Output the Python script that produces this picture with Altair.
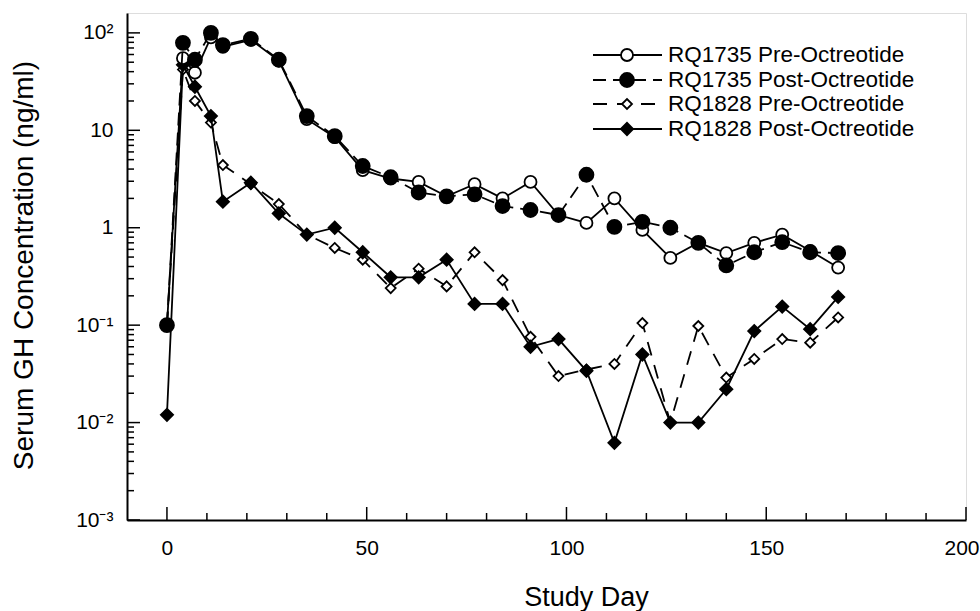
import altair as alt
import pandas as pd

# ---------------- data ----------------
DAYS = [0, 4, 7, 11, 14, 21, 28, 35, 42, 49, 56, 63, 70, 77, 84, 91, 98,
        105, 112, 119, 126, 133, 140, 147, 154, 161, 168]

RQ1735_PRE = [0.1, 55, 39, 90, 72, 85, 52, 13, 8.5, 3.9, 3.2, 2.95, 2.1, 2.8,
              2.0, 2.95, 1.35, 1.12, 2.0, 0.95, 0.49, 0.70, 0.55, 0.70, 0.85,
              0.58, 0.39]
RQ1735_POST = [0.1, 79, 53, 100, 75, 87, 53, 14, 8.7, 4.3, 3.3, 2.3, 2.1, 2.2,
               1.67, 1.52, 1.35, 3.5, 1.02, 1.15, 1.0, 0.70, 0.41, 0.56, 0.71,
               0.56, 0.55]
RQ1828_PRE = [0.1, 42, 20, 12, 4.4, 2.8, 1.75, 0.85, 0.62, 0.47, 0.24, 0.38,
              0.25, 0.56, 0.29, 0.076, 0.03, 0.035, 0.04, 0.105, 0.01, 0.098,
              0.029, 0.045, 0.072, 0.066, 0.12]
RQ1828_POST = [0.012, 47, 28, 14, 1.85, 2.9, 1.4, 0.85, 1.0, 0.56, 0.31, 0.31,
               0.47, 0.165, 0.165, 0.06, 0.072, 0.034, 0.0062, 0.05, 0.01, 0.01,
               0.022, 0.087, 0.155, 0.091, 0.195]

SERIES = ["RQ1735 Pre-Octreotide", "RQ1735 Post-Octreotide",
          "RQ1828 Pre-Octreotide", "RQ1828 Post-Octreotide"]
VALUES = [RQ1735_PRE, RQ1735_POST, RQ1828_PRE, RQ1828_POST]

X_MAJOR = [0, 50, 100, 150, 200]
X_MINOR = [10, 20, 30, 40, 60, 70, 80, 90, 110, 120, 130, 140, 160, 170, 180, 190]
Y_MAJOR = [0.001, 0.01, 0.1, 1, 10, 100]
Y_MINOR = [m * d for d in [0.001, 0.01, 0.1, 1, 10] for m in range(2, 10)]

# ---------------- styles ----------------
FONT = "Liberation Sans"
W, H = 839, 507
STYLE = {
    "RQ1735 Pre-Octreotide": dict(dash=None, shape="circle", fill="white", size=144),
    "RQ1735 Post-Octreotide": dict(dash=[13, 7], shape="circle", fill="black", size=196),
    "RQ1828 Pre-Octreotide": dict(dash=[14, 10], shape="diamond", fill="white", size=100),
    "RQ1828 Post-Octreotide": dict(dash=None, shape="diamond", fill="black", size=150),
}
DRAW_ORDER = ["RQ1828 Pre-Octreotide", "RQ1828 Post-Octreotide",
              "RQ1735 Pre-Octreotide", "RQ1735 Post-Octreotide"]

x_scale = alt.Scale(domain=[-10, 200], nice=False, zero=False)
y_scale = alt.Scale(type="log", domain=[0.001, 160], nice=False)

label_expr = ("datum.value >= 99 ? '10\u00b2' : datum.value >= 9 ? '10' : "
              "datum.value >= 0.9 ? '1' : datum.value >= 0.09 ? '10\u207b\u00b9' : "
              "datum.value >= 0.009 ? '10\u207b\u00b2' : '10\u207b\u00b3'")

x_axis = alt.Axis(title="Study Day", values=X_MAJOR, ticks=False, tickSize=0,
                  grid=False, labelPadding=17, labelFont=FONT, labelFontSize=21,
                  labelColor="black", labelFlush=True, labelFlushOffset=13,
                  labelOverlap=False,
                  titleFont=FONT, titleFontSize=27, titleFontWeight="normal",
                  titleColor="black", titleX=459, titleY=85,
                  titleBaseline="alphabetic", titleAlign="center",
                  domainColor="black", domainWidth=2)
y_axis = alt.Axis(title="Serum GH Concentration (ng/ml)", values=Y_MAJOR,
                  ticks=False, tickSize=0, grid=False, labelPadding=14,
                  labelExpr=label_expr, labelFont=FONT, labelFontSize=21,
                  labelColor="black", labelFlush=False, labelOverlap=False,
                  titleFont=FONT, titleFontSize=28, titleFontWeight="normal",
                  titleColor="black", titleX=-95, titleY=252, titleAngle=270,
                  titleBaseline="alphabetic", titleAlign="center",
                  domainColor="black", domainWidth=2)

rows = []
for name, vals in zip(SERIES, VALUES):
    for d, v in zip(DAYS, vals):
        rows.append({"series": name, "day": d, "value": v})
df = pd.DataFrame(rows)

X = alt.X("day:Q", scale=x_scale, axis=x_axis)
Y = alt.Y("value:Q", scale=y_scale, axis=y_axis)

layers = []

# inward tick marks
def xticks(vals, length):
    return alt.Chart(pd.DataFrame({"day": vals})).mark_rule(
        color="black", strokeWidth=1.5).encode(
        x=X, y=alt.value(H), y2=alt.value(H - length))

def yticks(vals, length):
    return alt.Chart(pd.DataFrame({"value": vals})).mark_rule(
        color="black", strokeWidth=1.5).encode(
        y=Y, x=alt.value(0), x2=alt.value(length))

layers += [xticks(X_MAJOR, 13), xticks(X_MINOR, 7),
           yticks(Y_MAJOR, 13), yticks(Y_MINOR, 7)]

for name in DRAW_ORDER:
    st = STYLE[name]
    sub = df[df["series"] == name]
    line_kw = dict(color="black", strokeWidth=1.8)
    if st["dash"]:
        line_kw["strokeDash"] = st["dash"]
    line = alt.Chart(sub).mark_line(**line_kw).encode(x=X, y=Y)
    pts = alt.Chart(sub).mark_point(
        shape=st["shape"], size=st["size"], filled=True, fill=st["fill"],
        stroke="black", strokeWidth=1.8, opacity=1).encode(x=X, y=Y)
    layers += [line, pts]

# legend (upper right)
LEG_Y = [42, 67, 91, 116]
for name, ly in zip(SERIES, LEG_Y):
    st = STYLE[name]
    one = alt.Data(values=[{"k": 1}])
    rule_kw = dict(color="black", strokeWidth=1.8)
    if st["dash"]:
        rule_kw["strokeDash"] = st["dash"]
    layers.append(alt.Chart(one).mark_rule(**rule_kw).encode(
        x=alt.value(466), x2=alt.value(535), y=alt.value(ly)))
    layers.append(alt.Chart(one).mark_point(
        shape=st["shape"], size=st["size"], filled=True, fill=st["fill"],
        stroke="black", strokeWidth=1.8, opacity=1).encode(
        x=alt.value(500), y=alt.value(ly)))
    layers.append(alt.Chart(one).mark_text(
        align="left", baseline="middle", font=FONT, fontSize=22.5,
        color="black").encode(x=alt.value(541), y=alt.value(ly),
                              text=alt.value(name)))

chart = alt.layer(*layers).properties(
    width=W, height=H,
    autosize=alt.AutoSizeParams(type="none"),
    padding={"left": 127, "top": 13, "right": 14, "bottom": 91},
).configure_view(stroke=None).configure(background="white")

chart.save("out.html", embed_options={"renderer": "svg", "actions": False})
